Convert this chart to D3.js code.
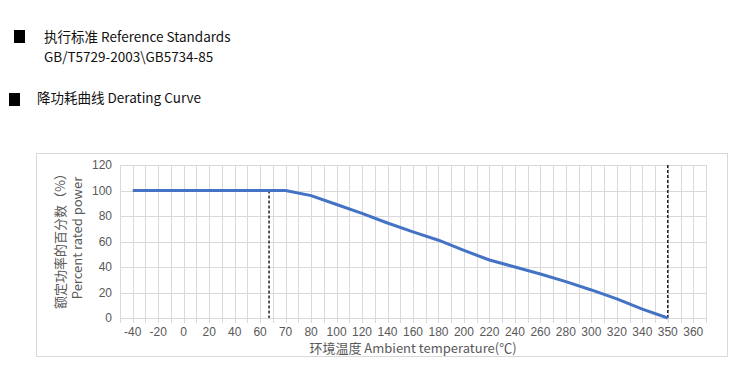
<!DOCTYPE html>
<html>
  <head>
    <meta charset="utf-8">
    <script src="https://d3js.org/d3.v7.min.js"></script>
    <style>
      body { margin: 0; background: #fff; }
      text { font-family: "Noto Sans CJK SC", "Noto Sans", sans-serif; }
      .tick-label { font-family: "Liberation Sans", Arial, sans-serif; font-size: 12px; fill: #595959; }
    </style>
  </head>
  <body>
    <svg id="chart" width="750" height="378"></svg>
    <script>
      // categories on the x axis (Excel-style category axis)
      const temps = ["-40", "-20", "0", "20", "40", "60", "70", "80", "100", "120", "140", "160",
                     "180", "200", "220", "240", "260", "280", "300", "320", "340", "350", "360"];
      // percent rated power (360 has no point)
      const power = [100, 100, 100, 100, 100, 100, 100, 96, 89, 82, 74.5, 67.5,
                     61, 53, 45.5, 40, 34.5, 28.5, 22, 15, 7, 0, null];
      const yTicks = [0, 20, 40, 60, 80, 100, 120];
      // dashed markers: [category, offset toward next category, top value]
      const markers = [["60", 0.35, 100], ["350", 0, 120]];

      const svg = d3.select("#chart");

      // header texts
      svg.append("rect").attr("x", 14).attr("y", 30).attr("width", 11).attr("height", 13).attr("fill", "#000");
      svg.append("text").attr("x", 44).attr("y", 42).attr("font-size", 13.5).attr("fill", "#111")
        .text("执行标准  Reference Standards");
      svg.append("text").attr("x", 44).attr("y", 62).attr("font-size", 13.5).attr("fill", "#111")
        .text("GB/T5729-2003\\GB5734-85");
      svg.append("rect").attr("x", 9).attr("y", 93).attr("width", 11).attr("height", 13).attr("fill", "#000");
      svg.append("text").attr("x", 37).attr("y", 103).attr("font-size", 13.5).attr("fill", "#111")
        .text("降功耗曲线 Derating Curve");

      // chart frame
      svg.append("rect").attr("x", 36.5).attr("y", 153.5).attr("width", 691).attr("height", 203)
        .attr("fill", "#fff").attr("stroke", "#d9d9d9");

      const x = d3.scaleBand().domain(temps).range([120, 706]).padding(0);
      const y = d3.scaleLinear().domain([0, 120]).range([318, 165]);
      const step = x.step();
      const cx = c => x(c) + step / 2;

      // vertical gridlines every half category
      const grid = svg.append("g").attr("stroke", "#d9d9d9").attr("stroke-width", 1);
      d3.range(temps.length * 2 + 1).forEach(i => {
        const gx = Math.round(120 + i * step / 2) + 0.5;
        grid.append("line").attr("x1", gx).attr("x2", gx).attr("y1", y(120)).attr("y2", y(0) + 5);
      });
      // horizontal gridlines
      yTicks.forEach(t => {
        grid.append("line").attr("x1", 120).attr("x2", 706)
          .attr("y1", Math.round(y(t)) + 0.5).attr("y2", Math.round(y(t)) + 0.5);
      });

      // axes labels
      svg.append("g").selectAll("text").data(yTicks).join("text")
        .attr("class", "tick-label").attr("x", 112).attr("y", d => y(d) + 4)
        .attr("text-anchor", "end").text(d => d);
      svg.append("g").selectAll("text").data(temps).join("text")
        .attr("class", "tick-label").attr("x", d => cx(d)).attr("y", 336)
        .attr("text-anchor", "middle").text(d => d);

      // dashed markers
      markers.forEach(m => {
        const mx = cx(m[0]) + m[1] * step;
        svg.append("line").attr("x1", mx).attr("x2", mx).attr("y1", y(m[2])).attr("y2", y(0))
          .attr("stroke", "#000").attr("stroke-width", 1.3).attr("stroke-dasharray", "3,2");
      });

      // derating curve
      const pts = temps.map((t, i) => [t, power[i]]).filter(d => d[1] !== null);
      const line = d3.line().x(d => cx(d[0])).y(d => y(d[1]));
      svg.append("path").datum(pts).attr("d", line)
        .attr("fill", "none").attr("stroke", "#4472c4").attr("stroke-width", 3)
        .attr("stroke-linejoin", "round");

      // axis titles
      svg.append("text").attr("x", 413).attr("y", 353).attr("text-anchor", "middle")
        .attr("font-size", 13).attr("fill", "#595959").text("环境温度 Ambient temperature(℃)");
      const yt = svg.append("text").attr("transform", "translate(65,238) rotate(-90)")
        .attr("text-anchor", "middle").attr("font-size", 13).attr("fill", "#595959");
      yt.append("tspan").attr("x", 0).attr("y", 0).text("额定功率的百分数（%）");
      yt.append("tspan").attr("x", 0).attr("y", 17).text("Percent rated power");
    </script>
  </body>
</html>
